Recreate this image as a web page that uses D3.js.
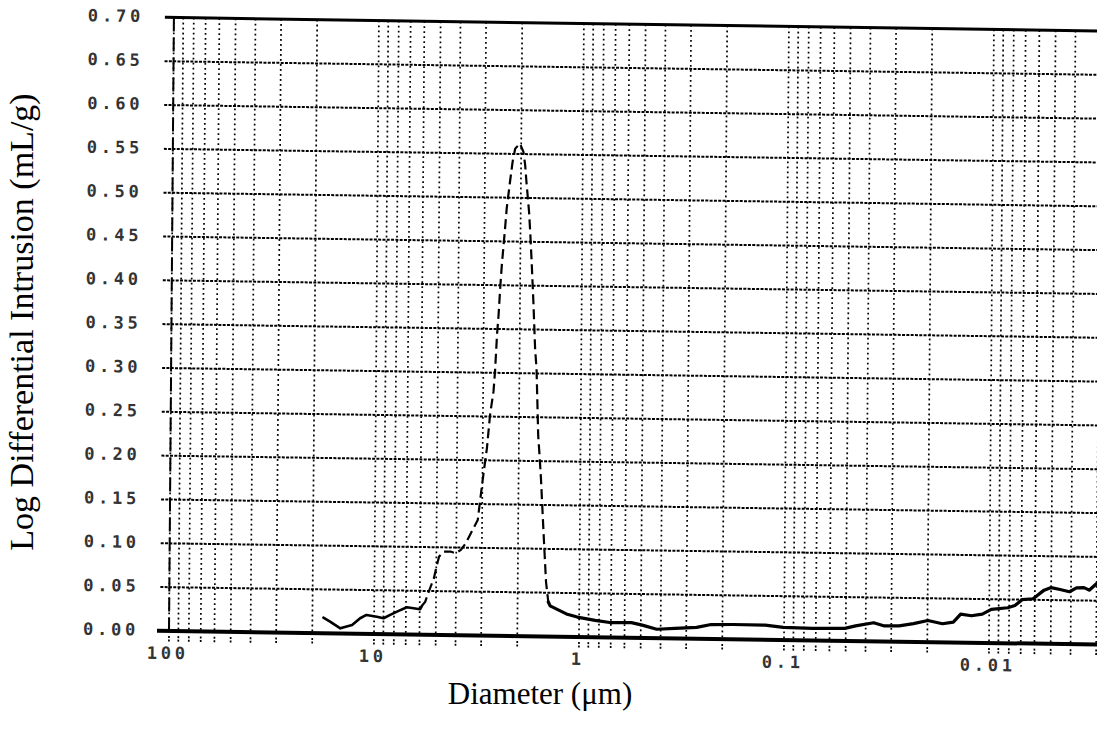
<!DOCTYPE html>
<html>
<head>
<meta charset="utf-8">
<script src="https://cdn.jsdelivr.net/npm/d3@7"></script>
<style>
  html, body { margin: 0; padding: 0; background: #fff; }
  svg { display: block; }
</style>
</head>
<body>
<svg id="chart" width="1097" height="740"></svg>
<script>
// ---- data ----
const diameters = [17.68, 16.4, 14.6, 12.8, 11.7, 10.9, 9.7, 9.0, 8.35, 7.74, 6.93, 6.43, 5.97, 5.86,
  5.64, 5.43, 5.13, 4.94, 4.85, 4.59, 4.26, 4.03, 3.80, 3.60, 3.40, 3.21, 3.15, 3.077, 2.97, 2.86, 2.77,
  2.67, 2.63, 2.58, 2.54, 2.50, 2.46, 2.38, 2.34, 2.26, 2.20, 2.14, 2.03, 1.95, 1.91, 1.88, 1.82, 1.79,
  1.76, 1.72, 1.68, 1.65, 1.63, 1.61, 1.587, 1.555, 1.494, 1.455, 1.416,
  1.387, 1.155, 1.022, 0.835, 0.709, 0.556, 0.492, 0.418, 0.341, 0.267, 0.227, 0.178, 0.1236, 0.1009,
  0.0729, 0.0506, 0.0448, 0.0366, 0.0324, 0.0275, 0.0234, 0.0199, 0.0169, 0.01496, 0.01378, 0.01221,
  0.01081, 0.00977, 0.00813, 0.0075, 0.00692, 0.00612, 0.00541, 0.0050, 0.00452, 0.00407, 0.00376,
  0.00346, 0.00326, 0.00301];
const intrusion = [0.0178, 0.0134, 0.0059, 0.0099, 0.0177, 0.0216, 0.0198, 0.0181, 0.022, 0.0259, 0.031,
  0.030, 0.029, 0.0327,
  0.0378, 0.049, 0.0646, 0.0818, 0.0893, 0.0952, 0.0953, 0.0935, 0.0973, 0.105, 0.1166, 0.128, 0.1318,
  0.1529, 0.1837, 0.214, 0.252, 0.279, 0.3016, 0.3435, 0.366, 0.397, 0.423, 0.465, 0.488, 0.5185, 0.541,
  0.556, 0.562, 0.5527, 0.5376, 0.5185, 0.484, 0.4577, 0.427, 0.3815, 0.328, 0.305, 0.267, 0.229, 0.210,
  0.180, 0.1075, 0.0619, 0.0394,
  0.035, 0.0261, 0.0227, 0.0193, 0.017, 0.0173, 0.0146, 0.0101, 0.0115, 0.0129, 0.0164, 0.0168, 0.0166,
  0.0143, 0.0137, 0.0142, 0.0173, 0.0212, 0.0177, 0.018, 0.0208, 0.0246, 0.0212, 0.0232, 0.0325, 0.0308,
  0.0328, 0.0384, 0.0405, 0.0432, 0.0499, 0.0512, 0.0612, 0.0642, 0.0622, 0.0598, 0.0643, 0.0647, 0.0619,
  0.0693];
// index range of the steep (dashed-looking) part of the trace
const dashedStart = 13;
const dashedEnd = 58;

const xTickValues = [100, 10, 1, 0.1, 0.01];
const xTickLabels = ["100", "10", "1", "0.1", "0.01"];
const yTickValues = [0, 0.05, 0.10, 0.15, 0.20, 0.25, 0.30, 0.35, 0.40, 0.45, 0.50, 0.55, 0.60, 0.65, 0.70];
const yTickLabels = ["0.00", "0.05", "0.10", "0.15", "0.20", "0.25", "0.30", "0.35", "0.40", "0.45",
  "0.50", "0.55", "0.60", "0.65", "0.70"];
const xDomain = [100, 0.003];
const yDomain = [0, 0.70];
const xTitle = "Diameter (\u03BCm)";
const yTitle = "Log Differential Intrusion (mL/g)";

// ---- layout ----
const X0 = 169, DECADE = 205, Y0 = 631, YTOP = 17.5;
const x = d3.scaleLog().domain(xDomain)
  .range([X0, X0 + DECADE * Math.log10(xDomain[0] / xDomain[1])]);
const y = d3.scaleLinear().domain(yDomain).range([Y0, YTOP]);

const svg = d3.select("#chart");
// slight skew of the scanned page
const g = svg.append("g")
  .attr("transform", `translate(${X0},${Y0}) matrix(1,0.0146,-0.008,1,0,0) translate(${-X0},${-Y0})`);

const ink = "#000";
const labelFont = "'DejaVu Sans Mono', monospace";

// vertical dotted grid (log subdivisions)
const minor = x.ticks();
g.append("g").selectAll("line").data(minor).join("line")
  .attr("x1", d => x(d)).attr("x2", d => x(d))
  .attr("y1", y(yDomain[1])).attr("y2", y(0))
  .attr("stroke", ink).attr("stroke-width", 1.7)
  .attr("stroke-dasharray", "1.8,3.2");
// small ticks below the baseline
g.append("g").selectAll("line").data(minor).join("line")
  .attr("x1", d => x(d)).attr("x2", d => x(d))
  .attr("y1", y(0) + 5).attr("y2", y(0) + 12)
  .attr("stroke", ink).attr("stroke-width", 1.7)
  .attr("stroke-dasharray", "2,1.5");

// horizontal grid
const inner = yTickValues.filter(v => v > 0 && v < yDomain[1]);
g.append("g").selectAll("line").data(inner).join("line")
  .attr("x1", X0 - 9).attr("x2", 1105)
  .attr("y1", d => y(d)).attr("y2", d => y(d))
  .attr("stroke", ink).attr("stroke-width", 2)
  .attr("stroke-dasharray", "3,1.3");
// top frame line
g.append("line")
  .attr("x1", X0 - 9).attr("x2", 1105)
  .attr("y1", y(yDomain[1])).attr("y2", y(yDomain[1]))
  .attr("stroke", ink).attr("stroke-width", 3);
// baseline
g.append("line")
  .attr("x1", X0 - 12).attr("x2", 1105)
  .attr("y1", y(0)).attr("y2", y(0))
  .attr("stroke", ink).attr("stroke-width", 4);
// y axis (dashed)
g.append("line")
  .attr("x1", X0).attr("x2", X0)
  .attr("y1", y(yDomain[1])).attr("y2", y(0))
  .attr("stroke", ink).attr("stroke-width", 2)
  .attr("stroke-dasharray", "14,6");

// y tick labels
g.append("g").selectAll("text").data(yTickValues).join("text")
  .attr("x", 83).attr("y", d => y(d))
  .attr("dominant-baseline", "middle")
  .attr("font-family", labelFont).attr("font-size", 17).attr("font-weight", "bold")
  .attr("letter-spacing", 3.8).attr("fill", "#333")
  .text((d, i) => yTickLabels[i]);

// x tick labels
g.append("g").selectAll("text").data(xTickValues).join("text")
  .attr("x", (d, i) => x(d) - 3 - (xTickLabels[i].length * 14 - 4) / 2)
  .attr("y", 654)
  .attr("dominant-baseline", "middle")
  .attr("font-family", labelFont).attr("font-size", 17).attr("font-weight", "bold")
  .attr("letter-spacing", 3.8).attr("fill", "#333")
  .text((d, i) => xTickLabels[i]);

// data trace
const pts = diameters.map((d, i) => [d, intrusion[i]]);
const line = d3.line().x(d => x(d[0])).y(d => y(d[1])).curve(d3.curveLinear);
g.append("path").datum(pts.slice(0, dashedStart + 1))
  .attr("d", line).attr("fill", "none").attr("stroke", ink)
  .attr("stroke-width", 2.6).attr("stroke-linejoin", "round").attr("stroke-linecap", "round");
g.append("path").datum(pts.slice(dashedStart, dashedEnd + 1))
  .attr("d", line).attr("fill", "none").attr("stroke", ink)
  .attr("stroke-width", 2.2).attr("stroke-dasharray", "10,5");
g.append("path").datum(pts.slice(dashedEnd))
  .attr("d", line).attr("fill", "none").attr("stroke", ink)
  .attr("stroke-width", 3.2).attr("stroke-linejoin", "round").attr("stroke-linecap", "round");

// axis titles
svg.append("text")
  .attr("transform", "translate(33,322) rotate(-90)")
  .attr("text-anchor", "middle")
  .attr("font-family", "'Liberation Serif', 'Times New Roman', serif")
  .attr("font-size", 34).attr("fill", "#000")
  .text(yTitle);
svg.append("text")
  .attr("x", 540).attr("y", 704)
  .attr("text-anchor", "middle")
  .attr("font-family", "'Liberation Serif', 'Times New Roman', serif")
  .attr("font-size", 31).attr("fill", "#000")
  .text(xTitle);
</script>
</body>
</html>
